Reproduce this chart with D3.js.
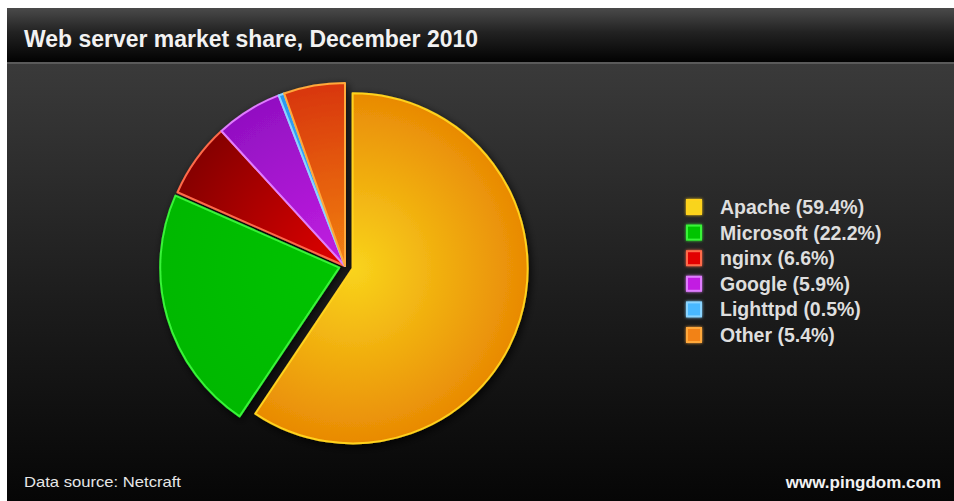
<!DOCTYPE html>
<html>
<head>
<meta charset="utf-8">
<script src="https://cdn.jsdelivr.net/npm/d3@7"></script>
<style>
  html, body { margin: 0; padding: 0; background: #fff; }
  svg { display: block; }
</style>
</head>
<body>
<svg id="chart" width="954" height="501"></svg>
<script>
const categories = ["Apache", "Microsoft", "nginx", "Google", "Lighttpd", "Other"];
const shares = [59.4, 22.2, 6.6, 5.9, 0.5, 5.4];
const innerColors = ["#f9d41c", "#00c400", "#e20404", "#c21ee2", "#4ab8ff", "#f28212"];
const outerColors = ["#e98a04", "#00b800", "#860000", "#9210c2", "#2a98f0", "#d8360e"];
const strokeColors = ["#ffd21e", "#38f438", "#ff6a4a", "#e07cff", "#8ad4ff", "#ffa83a"];
const explode = [8, 6, 0, 0, 0, 0];
const radii = [175, 179, 183, 183, 183, 183];
const title = "Web server market share, December 2010";
const sourceText = "Data source: Netcraft";
const siteText = "www.pingdom.com";

const svg = d3.select("#chart");
const W = 954, H = 501;
const defs = svg.append("defs");

// Background gradients
const hdr = defs.append("linearGradient").attr("id", "hdr").attr("x1", 0).attr("y1", 0).attr("x2", 0).attr("y2", 1);
hdr.append("stop").attr("offset", "0%").attr("stop-color", "#4a4a4a");
hdr.append("stop").attr("offset", "45%").attr("stop-color", "#222");
hdr.append("stop").attr("offset", "100%").attr("stop-color", "#020202");
const body = defs.append("linearGradient").attr("id", "body").attr("x1", 0).attr("y1", 0).attr("x2", 0).attr("y2", 1);
body.append("stop").attr("offset", "0%").attr("stop-color", "#3a3a3a");
body.append("stop").attr("offset", "55%").attr("stop-color", "#1c1c1c");
body.append("stop").attr("offset", "100%").attr("stop-color", "#060606");

svg.append("rect").attr("x", 7).attr("y", 64).attr("width", W - 7).attr("height", H - 64).attr("fill", "url(#body)");
svg.append("rect").attr("x", 7).attr("y", 8).attr("width", W - 7).attr("height", 54).attr("fill", "url(#hdr)");
svg.append("rect").attr("x", 7).attr("y", 62).attr("width", W - 7).attr("height", 2).attr("fill", "#5a5a5a");

// Title
svg.append("text").attr("x", 24).attr("y", 47)
  .attr("font-family", "'Liberation Sans', Arial, sans-serif")
  .attr("font-weight", "bold").attr("font-size", 23).attr("fill", "#f2f2f2")
  .attr("textLength", 454).attr("lengthAdjust", "spacingAndGlyphs")
  .text(title);

// Pie
const cx = 345, cy = 266;
const pie = d3.pie().sort(null).value(d => d.v).startAngle(0).endAngle(2 * Math.PI);
const data = categories.map((c, i) => ({ name: c, v: shares[i], i }));
const arcsData = pie(data);

const shadow = defs.append("filter").attr("id", "shadow").attr("x", "-20%").attr("y", "-20%").attr("width", "140%").attr("height", "140%");
shadow.append("feGaussianBlur").attr("in", "SourceAlpha").attr("stdDeviation", 4).attr("result", "b");
shadow.append("feOffset").attr("in", "b").attr("dx", 2).attr("dy", 3).attr("result", "o");
shadow.append("feComponentTransfer").attr("in", "o").attr("result", "s")
  .append("feFuncA").attr("type", "linear").attr("slope", 0.8);
const fm = shadow.append("feMerge");
fm.append("feMergeNode").attr("in", "s");
fm.append("feMergeNode").attr("in", "SourceGraphic");

arcsData.forEach((d, i) => {
  const g = defs.append("radialGradient").attr("id", "rg" + i)
    .attr("gradientUnits", "userSpaceOnUse").attr("cx", 0).attr("cy", 0).attr("r", radii[i]);
  g.append("stop").attr("offset", "0%").attr("stop-color", innerColors[i]);
  g.append("stop").attr("offset", "100%").attr("stop-color", outerColors[i]);
});

const pieG = svg.append("g").attr("transform", `translate(${cx},${cy})`).attr("filter", "url(#shadow)");
pieG.selectAll("g.slice").data(arcsData).join("g").attr("class", "slice")
  .attr("transform", d => {
    const a = (d.startAngle + d.endAngle) / 2;
    const e = explode[d.data.i];
    return `translate(${Math.sin(a) * e},${-Math.cos(a) * e})`;
  })
  .append("path")
  .attr("d", d => d3.arc().innerRadius(0).outerRadius(radii[d.data.i])(d))
  .attr("fill", d => `url(#rg${d.data.i})`)
  .attr("stroke", d => strokeColors[d.data.i])
  .attr("stroke-width", 2)
  .attr("stroke-linejoin", "round");

// Legend
const legY = d3.scalePoint().domain(categories).range([207, 335]);
const glow = defs.append("filter").attr("id", "glow").attr("x", "-50%").attr("y", "-50%").attr("width", "200%").attr("height", "200%");
glow.append("feGaussianBlur").attr("in", "SourceGraphic").attr("stdDeviation", 1.5).attr("result", "b");
const gm = glow.append("feMerge");
gm.append("feMergeNode").attr("in", "b");
gm.append("feMergeNode").attr("in", "SourceGraphic");

const leg = svg.append("g");
const rows = leg.selectAll("g").data(data).join("g")
  .attr("transform", d => `translate(0,${legY(d.name)})`);
rows.append("rect").attr("x", 687).attr("y", -7).attr("width", 14).attr("height", 14)
  .attr("fill", d => innerColors[d.i]).attr("stroke", d => strokeColors[d.i]).attr("stroke-width", 2)
  .attr("filter", "url(#glow)");
rows.append("text").attr("x", 720).attr("y", 7)
  .attr("font-family", "'Liberation Sans', Arial, sans-serif").attr("font-weight", "bold")
  .attr("font-size", 19.5).attr("fill", "#dedede")
  .text(d => `${d.name} (${d.v.toFixed(1)}%)`);

// Footer
svg.append("text").attr("x", 24).attr("y", 487)
  .attr("font-family", "'Liberation Sans', Arial, sans-serif")
  .attr("font-size", 15).attr("fill", "#e6e6e6")
  .attr("textLength", 157).attr("lengthAdjust", "spacingAndGlyphs")
  .text(sourceText);
svg.append("text").attr("x", 941).attr("y", 488).attr("text-anchor", "end")
  .attr("font-family", "'Liberation Sans', Arial, sans-serif").attr("font-weight", "bold")
  .attr("font-size", 17).attr("fill", "#f2f2f2")
  .text(siteText);
</script>
</body>
</html>
